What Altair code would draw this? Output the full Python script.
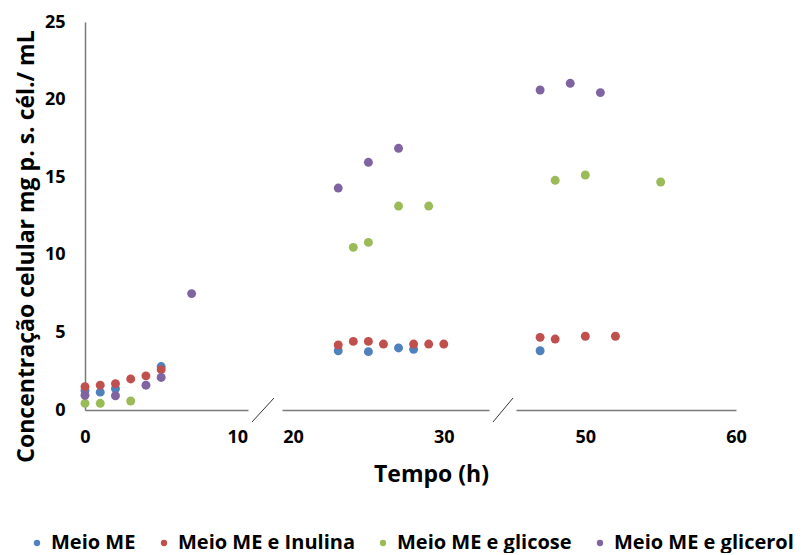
import altair as alt
import pandas as pd

series = ["Meio ME", "Meio ME e Inulina", "Meio ME e glicose", "Meio ME e glicerol"]
colors = ["#4F81BD", "#C0504D", "#9BBB59", "#8064A2"]

me_t = [0, 1, 2, 5, 23, 25, 27, 28, 47]
me_v = [1.25, 1.15, 1.37, 2.8, 3.82, 3.76, 4.0, 3.91, 3.82]
inu_t = [0, 1, 2, 3, 4, 5, 23, 24, 25, 26, 28, 29, 30, 47, 48, 50, 52]
inu_v = [1.5, 1.6, 1.7, 2.0, 2.2, 2.6, 4.19, 4.42, 4.42, 4.25, 4.25, 4.25, 4.25,
         4.68, 4.57, 4.75, 4.75]
gli_t = [0, 1, 3, 24, 25, 27, 29, 48, 50, 55]
gli_v = [0.43, 0.43, 0.58, 10.48, 10.8, 13.14, 13.14, 14.8, 15.14, 14.69]
gly_t = [0, 2, 4, 5, 7, 23, 25, 27, 47, 49, 51]
gly_v = [0.95, 0.92, 1.6, 2.1, 7.5, 14.3, 15.96, 16.86, 20.62, 21.05, 20.45]

# broken x-axis segments: (start, end) and tick labels
seg_domains = [(0, 10.7), (19.27, 33.0), (45.4, 60)]
seg_ticks = [[0, 10], [20, 30], [50, 60]]
y_ticks = [0, 5, 10, 15, 20, 25]

rows = []
for name, ts, vs in zip(series, [me_t, inu_t, gli_t, gly_t], [me_v, inu_v, gli_v, gly_v]):
    for t, v in zip(ts, vs):
        rows.append({"s": name, "t": t, "v": v})
df = pd.DataFrame(rows)

FONT = "Open Sans"
H = 388
widths = [163, 207, 220]
# break slash offsets (relative to the panel's left edge)
brk_x = {1: (-30, -8), 2: (-23, -3)}

legend = alt.Legend(
    title=None, orient="none", direction="horizontal",
    legendX=-58, legendY=511, padding=0,
    labelFont=FONT, labelFontSize=20, labelFontWeight="bold", labelColor="black",
    symbolType="circle", symbolSize=40, symbolStrokeWidth=0, labelOffset=4,
    columnPadding=18, labelLimit=400,
)

color = alt.Color("s:N", scale=alt.Scale(domain=series, range=colors), legend=legend,
                  sort=series)


def xaxis(i):
    kw = dict(values=seg_ticks[i], ticks=False, tickSize=0, labelPadding=18,
              labelFont=FONT, labelFontSize=18, labelFontWeight="bold",
              labelColor="black", labelFlush=False, grid=False,
              domainColor="#7a7a7a", domainWidth=1.5)
    if i == 1:
        kw.update(title="Tempo (h)", titleFont=FONT, titleFontSize=23,
                  titleFontWeight="bold", titleColor="black", titleX=149,
                  titleY=64, titleAlign="center", titleBaseline="middle")
    else:
        kw.update(title=None)
    return alt.Axis(**kw)


yaxis = alt.Axis(values=y_ticks, ticks=False, tickSize=0, labelPadding=20,
                 labelFont=FONT, labelFontSize=18, labelFontWeight="bold",
                 labelColor="black", grid=False, domainColor="#7a7a7a",
                 domainWidth=1.5,
                 title="Concentração celular mg p. s. cél./ mL",
                 titleFont=FONT, titleFontSize=23, titleFontWeight="bold",
                 titleColor="black", titleAngle=-90, titleX=-59, titleY=224,
                 titleAlign="center", titleBaseline="middle")

panels = []
for i, (lo, hi) in enumerate(seg_domains):
    pts = alt.Chart(df).transform_filter(
        f"datum.t >= {lo} && datum.t <= {hi}"
    ).mark_circle(size=80, opacity=1).encode(
        x=alt.X("t:Q", scale=alt.Scale(domain=[lo, hi], nice=False, zero=False),
                axis=xaxis(i)),
        y=alt.Y("v:Q", scale=alt.Scale(domain=[0, 25], nice=False),
                axis=yaxis if i == 0 else None),
        color=color,
    )
    layer = pts
    if i > 0:
        x0, x1 = brk_x[i]
        brk = alt.Chart(pd.DataFrame({"k": [0]})).mark_rule(
            color="#333333", strokeWidth=1
        ).encode(
            x=alt.value(x0), x2=alt.value(x1),
            y=alt.value(H + 12), y2=alt.value(H - 12),
        )
        layer = alt.layer(pts, brk)
    panels.append(layer.properties(width=widths[i], height=H))

chart = alt.hconcat(*panels, spacing=3).resolve_scale(
    color="shared"
).resolve_legend(color="shared").configure_view(stroke=None).properties(
    padding={"left": 14, "top": 13, "right": 5, "bottom": 0}
)

chart.save("out.html", embed_options={"renderer": "svg", "actions": False})
